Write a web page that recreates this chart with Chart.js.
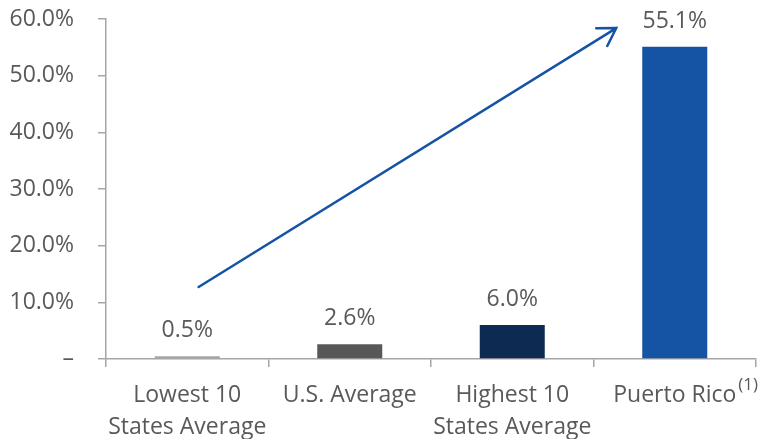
<!DOCTYPE html>
<html>
<head>
<meta charset="utf-8">
<script src="https://cdn.jsdelivr.net/npm/chart.js@4"></script>
<style>
    html, body { margin: 0; padding: 0; background: #ffffff; }
    #chart-wrap { width: 763px; height: 439px; }
</style>
</head>
<body>
<div id="chart-wrap"><canvas id="rate-chart" width="763" height="439"></canvas></div>
<script>
const categories = [["Lowest 10", "States Average"], "U.S. Average", ["Highest 10", "States Average"], "Puerto Rico"];
const values = [0.5, 2.6, 6.0, 55.1];
const barColors = ["#a6a6a6", "#58585a", "#0c2a52", "#1553a5"];
const yTicks = [0, 10, 20, 30, 40, 50, 60];
const footnoteMark = "(1)";
// arrow endpoints in data units: [category index, percent]
const arrowFrom = [0.07, 12.7];
const arrowTo = [2.64, 58.4];

const textColor = "#595959";
const axisColor = "#a6a6a6";
const fontFamily = "'Open Sans', sans-serif";

const valueLabels = {
    id: "valueLabels",
    afterDatasetsDraw(chart) {
        const ctx = chart.ctx;
        const meta = chart.getDatasetMeta(0);
        ctx.save();
        ctx.font = "23px " + fontFamily;
        ctx.fillStyle = textColor;
        ctx.textAlign = "center";
        ctx.textBaseline = "alphabetic";
        meta.data.forEach((bar, i) => {
            ctx.fillText(values[i].toFixed(1) + "%", bar.x, bar.y - 19);
        });
        ctx.restore();
    }
};

const trendArrow = {
    id: "trendArrow",
    afterDatasetsDraw(chart) {
        const ctx = chart.ctx;
        const xs = chart.scales.x;
        const ys = chart.scales.y;
        const x1 = xs.getPixelForValue(arrowFrom[0]);
        const y1 = ys.getPixelForValue(arrowFrom[1]);
        const x2 = xs.getPixelForValue(arrowTo[0]);
        const y2 = ys.getPixelForValue(arrowTo[1]);
        const angle = Math.atan2(y2 - y1, x2 - x1);
        const head = 20;
        ctx.save();
        ctx.strokeStyle = "#1553a5";
        ctx.lineWidth = 2.5;
        ctx.lineCap = "round";
        ctx.beginPath();
        ctx.moveTo(x1, y1);
        ctx.lineTo(x2, y2);
        ctx.moveTo(x2 - head * Math.cos(angle - 0.55), y2 - head * Math.sin(angle - 0.55));
        ctx.lineTo(x2, y2);
        ctx.lineTo(x2 - head * Math.cos(angle + 0.55), y2 - head * Math.sin(angle + 0.55));
        ctx.stroke();
        ctx.restore();
    }
};

const footnote = {
    id: "footnote",
    afterDraw(chart) {
        const ctx = chart.ctx;
        const xs = chart.scales.x;
        const last = categories.length - 1;
        ctx.save();
        ctx.font = "23px " + fontFamily;
        const half = ctx.measureText(categories[last]).width / 2;
        ctx.font = "17px " + fontFamily;
        ctx.fillStyle = textColor;
        ctx.textAlign = "left";
        ctx.textBaseline = "alphabetic";
        ctx.fillText(footnoteMark, xs.getPixelForTick(last) + half + 2, xs.top + 31);
        ctx.restore();
    }
};

function buildChart() {
    const ctx = document.getElementById("rate-chart").getContext("2d");
    new Chart(ctx, {
        type: "bar",
        data: {
            labels: categories,
            datasets: [{
                data: values,
                backgroundColor: barColors,
                barPercentage: 0.4,
                categoryPercentage: 1.0
            }]
        },
        options: {
            responsive: false,
            animation: false,
            layout: { padding: { top: 0, right: 7, bottom: 0, left: 0 } },
            plugins: {
                legend: { display: false },
                tooltip: { enabled: false }
            },
            scales: {
                x: {
                    grid: {
                        offset: true,
                        drawOnChartArea: false,
                        drawTicks: true,
                        tickLength: 8,
                        color: axisColor,
                        lineWidth: 1.5
                    },
                    border: { color: axisColor, width: 1.5 },
                    ticks: {
                        color: textColor,
                        font: { family: fontFamily, size: 23, lineHeight: 1.38 },
                        padding: 13,
                        maxRotation: 0,
                        autoSkip: false
                    },
                    afterFit: scale => { scale.height = 80; }
                },
                y: {
                    min: 0,
                    max: 60,
                    afterBuildTicks: scale => { scale.ticks = yTicks.map(v => ({ value: v })); },
                    grid: {
                        drawOnChartArea: false,
                        drawTicks: true,
                        tickLength: 8,
                        color: axisColor,
                        lineWidth: 1.5
                    },
                    border: { color: axisColor, width: 1.5 },
                    ticks: {
                        color: textColor,
                        font: { family: fontFamily, size: 23 },
                        padding: 24,
                        callback: v => v === 0 ? "–" : v.toFixed(1) + "%"
                    },
                    afterFit: scale => {
                        scale.width = 106;
                        scale.paddingTop = 19;
                        scale.paddingBottom = 0;
                    }
                }
            }
        },
        plugins: [valueLabels, trendArrow, footnote]
    });
}

buildChart();
</script>
</body>
</html>
